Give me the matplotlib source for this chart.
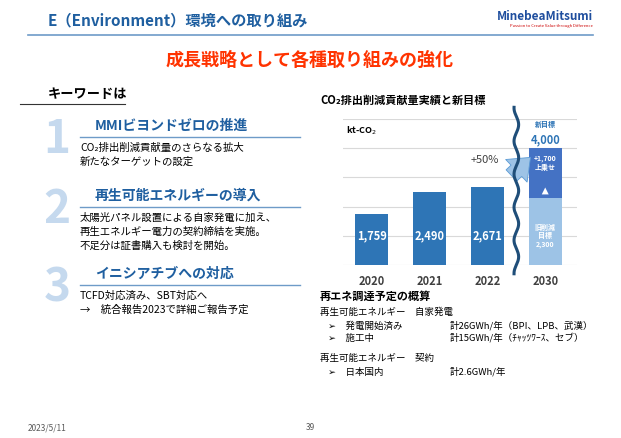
import matplotlib
matplotlib.use("Agg")
import matplotlib.pyplot as plt
import numpy as np

plt.rcParams["font.family"] = ["Noto Sans CJK JP", "DejaVu Sans"]

years = ["2020", "2021", "2022", "2030"]
actual = [1759, 2490, 2671]
old_target = 2300
new_target = 4000
bar_labels = ["1,759", "2,490", "2,671"]

W, H = 621, 438
fig = plt.figure(figsize=(W/100, H/100), dpi=100)
fig.patch.set_facecolor("white")

def T(x, y, s, **kw):
    fig.text(x/W, 1 - y/H, s, **kw)

def L(x0, x1, y, color, lw=1.0):
    fig.add_artist(plt.Line2D([x0/W, x1/W], [1-y/H, 1-y/H], color=color, lw=lw))

T(48, 20, "E（Environment）環境への取り組み", fontsize=11, color="#1F5FA0", va="center", weight="bold")
T(593, 16, "MinebeaMitsumi", fontsize=8.5, color="#1F4E9E", ha="right", va="center", weight="bold", style="italic")
T(593, 26, "Passion to Create Value through Difference", fontsize=3, color="#CC0000", ha="right", va="center")
L(28, 593, 35, "#6E9BC8", 1.2)
T(310, 60, "成長戦略として各種取り組みの強化", fontsize=13, color="#FF3300", ha="center", va="center", weight="bold")

T(48, 94, "キーワードは", fontsize=9.5, weight="bold", va="center")
L(20, 125, 104, "#333333", 0.8)

items = [
    (130, "1", "MMIビヨンドゼロの推進", ["CO₂排出削減貢献量のさらなる拡大", "新たなターゲットの設定"]),
    (200, "2", "再生可能エネルギーの導入", ["太陽光パネル設置による自家発電に加え、", "再生エネルギー電力の契約締結を実施。", "不足分は証書購入も検討を開始。"]),
    (278, "3", "イニシアチブへの対応", ["TCFD対応済み、SBT対応へ", "→　統合報告2023で詳細ご報告予定"]),
]
for y, num, head, lines in items:
    T(57, y+10, num, fontsize=33, color="#C5D9EE", style="italic", weight="bold", ha="center", va="center")
    T(95, y-4, head, fontsize=10, color="#1F5FA0", weight="bold", va="center")
    L(80, 300, y+7, "#6E9BC8", 1.0)
    for i, s in enumerate(lines):
        T(80, y+18+i*14, s, fontsize=7.5, va="center")

T(320, 100, "CO₂排出削減貢献量実績と新目標", fontsize=8, weight="bold", va="center")

ax = fig.add_axes([343/W, 1-265/H, 234/W, 146/H])
x = np.arange(4)
ax.bar(x[:3], actual, width=0.57, color="#2E75B6", zorder=2)
ax.bar(3, old_target, width=0.57, color="#9DC3E6", zorder=2)
ax.bar(3, new_target-old_target, bottom=old_target, width=0.57, color="#4472C4", zorder=2)
ax.set_ylim(0, 5000)
ax.set_xlim(-0.5, 3.55)
ax.set_yticks(range(0, 5001, 1000))
ax.grid(axis="y", color="#D9D9D9", lw=0.8, zorder=0)
for s in ax.spines.values():
    s.set_visible(False)
ax.tick_params(left=False, labelleft=False, bottom=False)
ax.set_xticks(x)
ax.set_xticklabels(years, fontsize=8, color="#404040", weight="bold")
for i, v in enumerate(actual):
    ax.text(i, 1000, bar_labels[i], color="white", ha="center", va="center", fontsize=8, weight="bold", zorder=3)
ax.text(3, 1000, "旧削減\n目標\n2,300", color="white", ha="center", va="center", fontsize=5, weight="bold", zorder=3, linespacing=1.2)
ax.text(3, 3500, "+1,700\n上乗せ", color="white", ha="center", va="center", fontsize=5, weight="bold", zorder=3)
ax.annotate("", xy=(3, 2750), xytext=(3, 2450), arrowprops=dict(arrowstyle="simple", color="white", lw=0), zorder=3)
ax.text(3, 4800, "新目標", color="#2E75B6", ha="center", va="center", fontsize=5, weight="bold", clip_on=False)
ax.text(3, 4300, "4,000", color="#2E75B6", ha="center", va="center", fontsize=8, weight="bold")
ax.text(-0.45, 4600, "kt-CO$_2$", fontsize=6.5, weight="bold", ha="left", va="center")
ax.text(1.95, 3600, "+50%", fontsize=8, color="#404040", ha="center", va="center")
ax.annotate("", xy=(2.78, 3750), xytext=(2.38, 3000),
            arrowprops=dict(arrowstyle="simple,head_width=1.6,head_length=1.0,tail_width=0.8", fc="#9DC3E6", ec="#5B9BD5", lw=0.6,
                            mutation_scale=14), zorder=4)
yy = np.linspace(-300, 5400, 200)
ax.plot(2.5 + 0.04*np.sin(yy/180), yy, color="#1F4E79", lw=2.2, zorder=5, clip_on=False)

T(320, 296, "再エネ調達予定の概算", fontsize=8, weight="bold", va="center")
rows = [
    (320, 312, "再生可能エネルギー　自家発電"),
    (328, 326, "➢　発電開始済み"), (450, 326, "計26GWh/年（BPI、LPB、武漢）"),
    (328, 338, "➢　施工中"), (450, 338, "計15GWh/年（ﾁｬｯﾂﾜｰｽ、セブ）"),
    (320, 358, "再生可能エネルギー　契約"),
    (328, 372, "➢　日本国内"), (450, 372, "計2.6GWh/年"),
]
for xx, yy_, s in rows:
    T(xx, yy_, s, fontsize=6.8, va="center")

T(28, 428, "2023/5/11", fontsize=6, color="#595959", va="center")
T(310, 428, "39", fontsize=6, color="#595959", ha="center", va="center")

fig.savefig("out.png", dpi=100)
